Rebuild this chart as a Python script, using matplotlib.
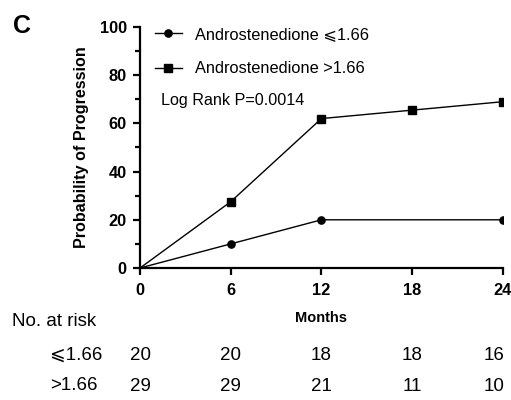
import matplotlib
matplotlib.use("Agg")
import matplotlib.pyplot as plt
import matplotlib.ticker as ticker
import matplotlib.transforms as mtransforms

plt.rcParams["font.family"] = ["Liberation Sans", "DejaVu Sans"]

months = [0, 6, 12, 18, 24]
low_x = [0, 6, 12, 24]
low_y = [0, 10, 20, 20]
high_x = [0, 6, 12, 18, 24]
high_y = [0, 27.5, 62, 65.5, 69]
risk_low = [20, 20, 18, 18, 16]
risk_high = [29, 29, 21, 11, 10]
low_label = "Androstenedione \u2a7d1.66"
high_label = "Androstenedione >1.66"

fig = plt.figure(figsize=(5.11, 4.0), dpi=100)
ax = fig.add_axes([0.274, 0.33, 0.71, 0.6025])

ax.plot(low_x, low_y, color="black", lw=1.0, marker="o", ms=5.2,
        markevery=list(range(1, len(low_x))), label=low_label)
ax.plot(high_x, high_y, color="black", lw=1.0, marker="s", ms=5.6,
        markevery=list(range(1, len(high_x))), label=high_label)

ax.set_xlim(0, 24)
ax.set_ylim(0, 100)
ax.set_xticks(months)
ax.yaxis.set_major_locator(ticker.MultipleLocator(20))
ax.yaxis.set_minor_locator(ticker.MultipleLocator(10))
ax.spines["top"].set_visible(False)
ax.spines["right"].set_visible(False)
for s in ["left", "bottom"]:
    ax.spines[s].set_linewidth(1.6)
ax.tick_params(which="major", length=5, width=1.6, labelsize=11.8)
ax.tick_params(axis="x", which="major", pad=6)
ax.tick_params(axis="y", which="major", pad=4.5)
ax.tick_params(which="minor", length=3.5, width=1.6)
for lab in ax.get_xticklabels() + ax.get_yticklabels():
    lab.set_fontweight("bold")

ax.set_ylabel("Probability of Progression", fontsize=11.6, fontweight="bold",
              labelpad=8)

ax.legend(loc="upper left", bbox_to_anchor=(0.041, 1.0), frameon=False,
          fontsize=11.8, handlelength=1.65, labelspacing=1.18,
          handletextpad=0.8, borderpad=0, borderaxespad=0)
ax.text(0.058, 0.695, "Log Rank P=0.0014", transform=ax.transAxes,
        fontsize=11.6, va="center")

fig.text(0.026, 0.935, "C", fontsize=18, fontweight="bold", va="center")

# number at risk table
trans = ax.get_xaxis_transform()
ax.text(12, -0.207, "Months", transform=trans, ha="center", va="center",
        fontsize=10.5, fontweight="bold")
fig.text(0.023, 0.196, "No. at risk", fontsize=13.5, va="center")
fig.text(0.098, 0.1125, "\u2a7d1.66", fontsize=13.5, va="center")
fig.text(0.098, 0.035, ">1.66", fontsize=13.5, va="center")
for i, (m, a, b) in enumerate(zip(months, risk_low, risk_high)):
    t = trans
    if i == len(months) - 1:
        # last column sits a little inside the right edge
        t = trans + mtransforms.ScaledTranslation(-6 / 72, 0, fig.dpi_scale_trans)
    ax.text(m, -0.361, str(a), transform=t, ha="center", va="center",
            fontsize=13.5, clip_on=False)
    ax.text(m, -0.49, str(b), transform=t, ha="center", va="center",
            fontsize=13.5, clip_on=False)

fig.savefig("out.png", dpi=100)
